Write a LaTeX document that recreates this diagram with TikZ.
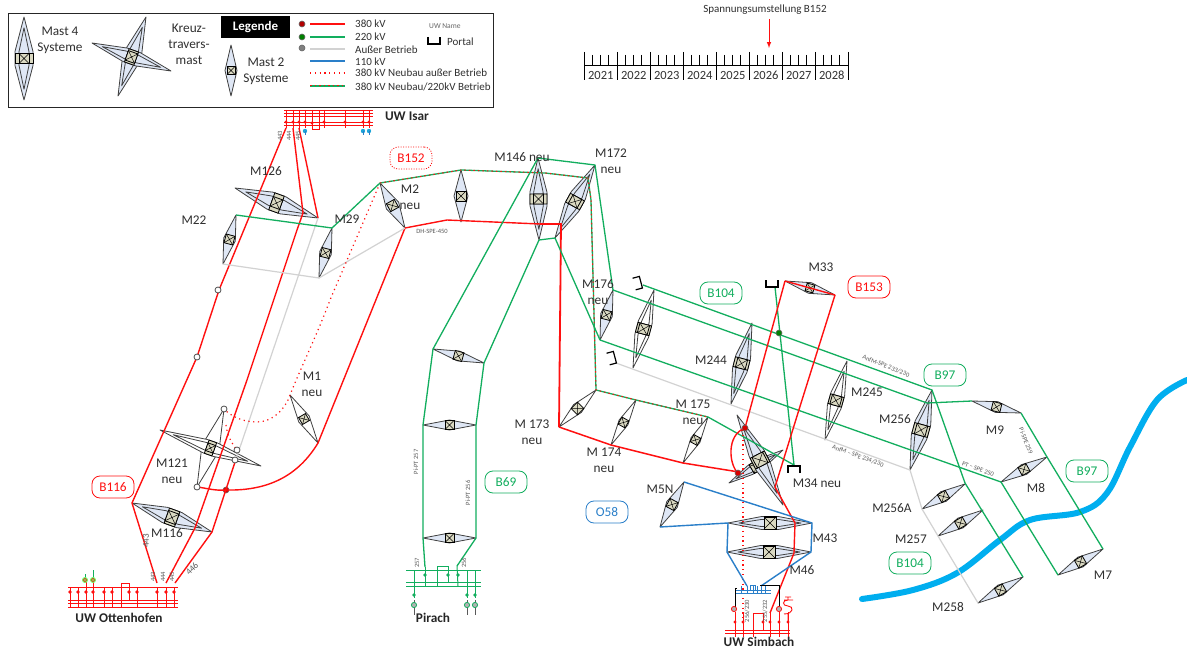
\documentclass[tikz,border=0pt]{standalone}
\usepackage{fontspec}
\setmainfont{Carlito}
\usetikzlibrary{calc}
\definecolor{cred}{HTML}{FF1010}
\definecolor{cgreen}{HTML}{12AE5E}
\definecolor{cgray}{HTML}{D2D2D2}
\definecolor{cblue}{HTML}{2A7FC9}
\definecolor{criver}{HTML}{00AEEF}
\definecolor{mastblue}{HTML}{DFE7F5}
\definecolor{beige}{HTML}{DAD9C2}
\definecolor{txt}{HTML}{303030}
\tikzset{
 mastline/.style={draw=black!75,line width=0.8pt,line join=round},
 boxline/.style={draw=black,line width=0.8pt,fill=beige},
 lred/.style={draw=cred,line width=1.4pt,line join=round},
 lgreen/.style={draw=cgreen,line width=1.3pt,line join=round},
 lgray/.style={draw=cgray,line width=1.2pt,line join=round},
 lblue/.style={draw=cblue,line width=1.4pt,line join=round},
 ldot/.style={draw=cred,line width=1.2pt,dash pattern=on 1.2pt off 3.6pt},
 lnew/.style={draw=cgreen,line width=1.3pt,line join=round,postaction={draw=cred,line width=1pt,dash pattern=on 1.5pt off 3pt}},
 lab/.style={text=txt,font=\fontsize{13.3}{16}\selectfont,align=center,inner sep=0pt},
 small/.style={text=black!65,font=\fontsize{6.5}{7}\selectfont,inner sep=0pt},
 legtxt/.style={text=txt,font=\fontsize{11}{12}\selectfont,anchor=west,inner sep=0pt},
 uw/.style={text=black!85,font=\bfseries\fontsize{13.3}{15}\selectfont,inner sep=0pt},
 pill/.style={draw=#1,text=#1,line width=0.8pt,rounded corners=8pt,minimum width=42pt,minimum height=22pt,font=\fontsize{13.3}{15}\selectfont,inner sep=0pt},
 pilldot/.style={draw=cred,text=cred,line width=0.8pt,dash pattern=on 1pt off 1.5pt,rounded corners=8pt,minimum width=42pt,minimum height=22pt,font=\fontsize{13.3}{15}\selectfont,inner sep=0pt},
 portalline/.style={draw=black,line width=1.2pt},
 stn/.style={draw=cred,line width=1pt},
 stg/.style={draw=cgreen,line width=1pt},
 stb/.style={draw=cblue,line width=1pt},
 stk/.style={draw=black,line width=1pt}
}
\newcommand{\mastsetup}[4]{%
 \pgfmathsetmacro\mdx{#3-#1}\pgfmathsetmacro\mdy{#4-#2}%
 \pgfmathsetmacro\mang{atan2(-\mdy,\mdx)}\pgfmathsetmacro\mlen{veclen(\mdx,\mdy)}%
 \pgfmathsetmacro\mmid{\mlen/2}}
% name, ax, ay, bx, by, half width, half box, fill
\newcommand{\mastII}[8]{%
 \coordinate (#1a) at (#2,#3);\coordinate (#1b) at (#4,#5);
 \mastsetup{#2}{#3}{#4}{#5}
 \begin{scope}[shift={(#2,#3)},rotate=\mang]
  \draw[mastline,fill=#8] (0,0)--(\mmid,#6)--(\mlen,0)--(\mmid,-#6)--cycle;
  \draw[boxline] (\mmid-#7,-#7) rectangle (\mmid+#7,#7);
  \draw[line width=0.5pt] (\mmid-#7,-#7)--(\mmid+#7,#7) (\mmid-#7,#7)--(\mmid+#7,-#7);
 \end{scope}}
\newcommand{\mastIV}[8]{%
 \coordinate (#1a) at (#2,#3);\coordinate (#1b) at (#4,#5);
 \mastsetup{#2}{#3}{#4}{#5}
 \pgfmathsetmacro\mq{#7*1.4}\pgfmathsetmacro\mi{#6*.55}\pgfmathsetmacro\mt{\mlen*.13}\pgfmathsetmacro\mu{\mlen*.87}
 \begin{scope}[shift={(#2,#3)},rotate=\mang]
  \draw[mastline,fill=#8] (0,0)--(\mmid-\mq,#6)--(\mmid+\mq,#6)--(\mlen,0)--(\mmid+\mq,-#6)--(\mmid-\mq,-#6)--cycle;
  \draw[mastline] (\mt,0)--(\mmid-\mq,\mi)--(\mmid+\mq,\mi)--(\mu,0)--(\mmid+\mq,-\mi)--(\mmid-\mq,-\mi)--cycle;
  \draw[boxline] (\mmid-#7,-#6) rectangle (\mmid+#7,#6);
  \draw[boxline] (\mmid-#7,-#7) rectangle (\mmid+#7,#7);
  \draw[line width=0.5pt] (\mmid-#7,-#7)--(\mmid+#7,#7) (\mmid-#7,#7)--(\mmid+#7,-#7);
 \end{scope}}
\newcommand{\portal}[4]{%
 \coordinate (#1) at (#2,#3);
 \begin{scope}[shift={(#2,#3)},rotate=#4]
  \draw[portalline] (-6,-4)--(-6,3)--(6,3)--(6,-4);
 \end{scope}}
\newcommand{\opendot}[3]{\node[circle,draw=black!70,fill=white,line width=0.8pt,minimum size=6pt,inner sep=0pt] (#1) at (#2,#3) {};}
\newcommand{\sdot}[4]{\node[circle,draw=black!60,fill=#4,line width=0.6pt,minimum size=6pt,inner sep=0pt] (#1) at (#2,#3) {};}
\begin{document}
\begin{tikzpicture}[x=1pt,y=-1pt]
\useasboundingbox (0,0) rectangle (1187,650);
\fill[white] (0,0) rectangle (1187,650);
% river
\draw[criver,line width=6pt,line cap=round] plot[smooth,tension=.6] coordinates {(862,599) (913,590) (957,573) (1000,540) (1030,520) (1080,512) (1107,493) (1130,447) (1157,400) (1187,380)};
% legend
\node[draw=black!85,line width=1.2pt,minimum width=485pt,minimum height=94pt,anchor=north west,inner sep=0pt] (legendbox) at (8,13) {};
\mastIV{Lf}{24}{17}{24}{100}{9}{5}{mastblue}
\mastIV{Lka}{146}{17}{118}{96}{8}{5}{mastblue}
\mastIV{Lkb}{92}{43}{171}{71}{7}{5}{mastblue}
\mastII{Lz}{231}{45}{231}{96}{6}{4}{mastblue}
\node[lab] (tf) at (60,40) {Mast 4\\Systeme};
\node[lab] (tk) at (189,44) {Kreuz-\\travers-\\mast};
\node[lab] (tz) at (266,71) {Mast 2\\Systeme};
\node[fill=black,text=white,font=\bfseries\fontsize{13}{15}\selectfont,minimum width=69pt,minimum height=22pt,inner sep=0pt] (leg) at (255.5,27) {Legende};
\sdot{ld1}{302}{24}{red!70!black}
\sdot{ld2}{302}{37}{green!50!black}
\sdot{ld3}{302}{48}{black!50}
\foreach \n/\y/\s in {a/24/lred,b/37/lgreen,c/49/lgray,d/61/lblue,e/73/ldot,f/86/lnew}{
 \coordinate (ls\n) at (310,\y);\coordinate (le\n) at (345,\y);
 \draw[\s] (ls\n)--(le\n);}
\node[legtxt] (t1) at (355,24) {380 kV};
\node[legtxt] (t2) at (355,37) {220 kV};
\node[legtxt] (t3) at (355,50) {Außer Betrieb};
\node[legtxt] (t4) at (355,62) {110 kV};
\node[legtxt] (t5) at (355,73) {380 kV Neubau außer Betrieb};
\node[legtxt] (t6) at (355,87) {380 kV Neubau/220kV Betrieb};
\node[text=black!60,font=\fontsize{7.5}{9}\selectfont,anchor=west,inner sep=0pt] (tu) at (429,26) {UW Name};
\portal{lp}{434}{41}{0}
\node[legtxt] (tp) at (447,42) {Portal};
% timeline
\node[text=txt,font=\fontsize{11}{13}\selectfont,inner sep=0pt] (spa) at (765,10) {Spannungsumstellung B152};
\coordinate (arra) at (769,19);\coordinate (arrb) at (769,48);
\draw[draw=cred,line width=1pt,-latex] (arra)--(arrb);
\draw[line width=0.9pt] (584,65)--(848,65);
\foreach \i in {0,...,8}{\pgfmathsetmacro\xx{584+33*\i}\draw[line width=0.9pt] (\xx,52)--(\xx,80);}
\foreach \i in {0,...,7}{
 \pgfmathsetmacro\xa{584+33*\i+8.25}\pgfmathsetmacro\xb{584+33*\i+16.5}\pgfmathsetmacro\xc{584+33*\i+24.75}\pgfmathsetmacro\xd{584+33*\i+16.8}\pgfmathtruncatemacro\yy{2021+\i}
 \draw[line width=0.7pt] (\xa,55)--(\xa,65) (\xb,55)--(\xb,65) (\xc,55)--(\xc,65);
 \node[text=txt,font=\fontsize{12.5}{14}\selectfont,inner sep=0pt] (y\yy) at (\xd,75) {\yy};}
% masts
\mastIV{M126}{235}{188}{318}{218}{9}{5}{mastblue}
\mastII{M22}{236}{215}{223}{264}{6}{4.5}{mastblue}
\mastII{M29}{332}{228}{319}{278}{6}{4.5}{mastblue}
\mastII{M2}{380}{183}{405}{228}{7}{4.5}{mastblue}
\mastII{Mx}{461}{170}{461}{222}{7}{5}{mastblue}
\mastIV{M146}{538}{158}{539}{240}{8.5}{5}{mastblue}
\mastIV{M172}{595}{165}{555}{238}{8}{5}{mastblue}
\mastII{M176}{613}{290}{600}{340}{6}{4.5}{mastblue}
\mastIV{Mw}{654}{290}{633}{368}{7}{5}{white}
\mastIV{M244}{752}{323}{731}{404}{7.5}{5}{mastblue}
\mastIV{M245}{847}{361}{825}{440}{7}{5}{white}
\mastIV{M256}{932}{390}{910}{470}{8}{5.5}{mastblue}
\mastII{M33}{785}{281}{835}{295}{5.5}{4}{mastblue}
\mastII{M173}{596}{390}{559}{427}{5.5}{4.5}{white}
\mastII{M174}{636}{400}{611}{445}{5}{4}{white}
\mastII{M175}{708}{417}{683}{463}{5}{4}{white}
\mastII{M1}{290}{395}{318}{443}{6}{4}{white}
\mastII{M9}{972}{401}{1021}{413}{5.5}{4.5}{mastblue}
\mastII{M8}{1047}{457}{1001}{482}{5.5}{4.5}{mastblue}
\mastII{M7}{1103}{549}{1058}{575}{5.5}{4.5}{mastblue}
\mastII{M258}{1023}{577}{978}{603}{5.5}{4.5}{mastblue}
\mastII{M256A}{965}{484}{922}{509}{5.5}{4.5}{mastblue}
\mastII{M257}{983}{510}{938}{536}{5.5}{4.5}{mastblue}
\mastII{P1}{433}{349}{484}{363}{5}{4.5}{mastblue}
\mastII{P2}{423}{425}{476}{425}{5}{4.5}{mastblue}
\mastII{P3}{423}{538}{476}{538}{5}{4.5}{mastblue}
\mastII{M5N}{684}{482}{660}{527}{6}{4.5}{mastblue}
\mastIV{M43}{728}{523}{812}{523}{6.5}{6}{mastblue}
\mastIV{M46}{727}{552}{811}{552}{6.5}{6}{mastblue}
\mastIV{M116}{132}{503}{212}{532}{8}{5.5}{mastblue}
\mastII{K1b}{224}{409}{197}{487}{9}{4}{white}
\mastIV{K1a}{160}{430}{261}{466}{7}{4}{white}
\mastIV{K2b}{729}{483}{783}{450}{5}{5}{mastblue}
\mastIV{K2a}{737}{415}{783}{505}{8}{6}{mastblue}
% bend points
\coordinate (ir1) at (286,128);\coordinate (ir2) at (293,128);\coordinate (ir3) at (299,128);
\coordinate (a1) at (219,290);\coordinate (a2) at (197,357);
\coordinate (a3) at (303,213);\coordinate (a4) at (297,230);\coordinate (a5) at (247,380);
\coordinate (ot1) at (157,583);\coordinate (ot2) at (166,583);\coordinate (ot3) at (175,583);
\coordinate (kc) at (235,462);
\sdot{od}{226}{490}{red!85!black}
% red lines
\draw[lred] (ir1)--(a1)--(a2)--(M116a)--(ot1);
\draw[lred] (ir2)--(a3)--(a4)--(a5)--(195,528)--(ot2);
\draw[lred] (ir3)--(M126b);
\draw[lred] (kc)--(M116b)--(ot3);
\draw[lred] (M2b)--(M1b) .. controls (298,476) and (268,491) .. (od.center) .. controls (215,491) and (206,488) .. (K1bb);
\draw[lred] (M2b)--(447,220)--(540,224);
\draw[draw=cred,line width=1.8pt] (540,224)--(561,224)--(M173b);
\draw[draw=cred,line width=1.5pt] (M173b)--(M174b)--(M175b)--(739,472);
\draw[lgray] (M126b)--(kc);
\draw[lgray] (M22b)--(M29b)--(M2b);
\draw[ldot] (M2a)--(330,300) .. controls (317,335) and (302,365) .. (M1a) .. controls (285,410) and (272,422) .. (257,422) .. controls (245,422) and (233,418) .. (K1ba);
\draw[ldot] (226,425) .. controls (227,435) and (232,444) .. (237,450);
\draw[lgreen] (M22a)--(M29a)--(M2a);
\draw[lnew] (M2a)--(Mxa)--(545,173)--(588,178);
\draw[lnew] (588,178)--(591,200)--(596,390)--(M174a)--(M175a);
\draw[lgreen] (M146a)--(M172a)--(M176a);
\draw[lgreen] (M146a)--(460,300)--(P1a)--(P2a)--(P3a)--(425,567);
\draw[lgreen] (M146b)--(P1b)--(P2b)--(P3b)--(457,566);
\draw[lgreen] (M146b)--(M172b)--(M176b);
\draw[lgreen] (643,285)--(M256a)--(965,483)--(M258a);
\draw[lgreen] (M176a)--(927,403)--(M9a);
\draw[lgreen] (M176b)--(M8b)--(M7b);
\draw[lgreen] (M9b)--(M8a)--(M7a);
\draw[lgray] (616,363)--(M256b)--(M256Ab)--(M257b)--(M258b);
\draw[lgreen] (775,287)--(794,465);
\draw[lgreen] (M175a)--(794,465);
\sdot{gd}{779}{333}{green!50!black}
\draw[ldot] (743,430)--(743,620);
\draw[lred] (M33a)--(745,428);
\draw[lred] (M33b)--(M33a);
\draw[lred] (M33b)--(802,400)--(775,487)--(795,523)--(794,553)--(770,613);
\draw[lred] (738,473) .. controls (729,465) and (726,435) .. (745,428);
\sdot{rd1}{745}{428}{red!85!black}
\sdot{rd2}{738}{473}{red!85!black}
\draw[lblue] (M5Na)--(M43b)--(M46b)--(761,586);
\draw[lblue] (M5Nb)--(M43a)--(M46a)--(747,586);
% open dots
\opendot{odA}{218}{290}
\opendot{odB}{197}{357}
\opendot{odC}{224}{409}
\opendot{odD}{197}{487}
\opendot{odE}{237}{450}
\opendot{odF}{235}{460}
% portals
\portal{p1}{638}{283}{105}
\portal{p2}{612}{358}{105}
\portal{p3}{772}{284}{0}
\portal{p4}{794}{469}{180}
% UW Isar
\foreach \y in {110,113,116,122,125}{\draw[draw=cred,line width=.7pt] (284,\y)--(373,\y);}
\foreach \x in {286,293,299,305,324,345,363,369}{\draw[stn] (\x,110)--(\x,128);\fill[cred] (\x,122) circle (1.7);}
\draw[stn] (312,110)--(312,130)--(319,130)--(319,111);
\fill[cred] (312,123) circle (1.7);
\foreach \x in {305,363,369}{\fill[cblue!70!cyan] (\x,131) circle (2.2);\draw[cblue] (\x,131)--(\x,135);}
\foreach \x/\n in {280/443,289/444,298/445}{\node[small,rotate=90] (i\n) at (\x,136) {\n};}
\node[uw] (uwi) at (407,116) {UW Isar};
% UW Ottenhofen
\foreach \y in {587,600,603,607}{\draw[stn] (68,\y)--(178,\y);}
\foreach \x in {70,78,86,93,104,112,137,157,166,174}{\draw[stn] (\x,587)--(\x,607);\fill[cred] (\x,592) circle (1.8);}
\draw[stn] (121,607)--(121,583)--(129,583)--(129,600);\fill[cred] (129,592) circle (1.8);
\draw[stn] (86,587)--(86,582) (93,587)--(93,582);
\foreach \x/\yy in {85/574,93/570}{\draw[stg] (\x,580)--(\x,\yy);\fill[green!60!white] (\x,580) circle (3);\draw[cred,line width=.6pt] (\x,580) circle (1.8);}
\node[uw] (uwo) at (119,618) {UW Ottenhofen};
\foreach \x/\n in {153/443,163/444,172/445}{\node[small,rotate=90] (o\n) at (\x,577) {\n};}
\node[text=black!65,font=\fontsize{9}{10}\selectfont,rotate=90,inner sep=0pt] (n443) at (146,541) {443};
\node[text=black!65,font=\fontsize{9}{10}\selectfont,rotate=45,inner sep=0pt] (n446) at (192,569) {446};
% Pirach
\foreach \y in {570,582,586}{\draw[stg] (406,\y)--(481,\y);}
\foreach \x in {414,467,475}{\draw[stg] (\x,570)--(\x,598);\fill[cgreen] (\x,595) circle (1.8);\draw[line width=.9pt,black!65] (\x,600)--(\x,615);\draw[cgreen,line width=.8pt,fill=black!30] (\x,605) circle (2.6);}
\draw[stg] (425,567)--(425,586);\fill[cgreen] (425,575) circle (1.8);
\draw[stg] (457,566)--(458,586);\fill[cgreen] (458,575) circle (1.8);
\draw[stg] (437,586)--(437,566)--(448,566)--(448,582);\fill[cgreen] (448,575) circle (1.8);
\node[small,rotate=90] (p257) at (417,563) {257};
\node[small,rotate=90] (p256) at (464,563) {256};
\node[uw] (uwp) at (433,618) {Pirach};
\node[small,rotate=90] (pp257) at (416,462) {Pi-PT 257};
\node[small,rotate=90] (pp256) at (468,493) {Pi-PT 256};
% Simbach
\foreach \y in {590,593}{\draw[stb] (735,\y)--(771,\y);}
\foreach \x in {741,747,753,757,761,765}{\draw[draw=cblue,line width=.8pt] (\x,586)--(\x,593);}
\draw[stb] (750,590)--(750,585)--(755,585)--(755,590);
\draw[stk] (735,610)--(735,588)--(737,588);
\draw[stk] (760,585)--(779,585)--(779,610);
\foreach \x in {734,779}{\draw[cred,line width=.8pt,fill=black!30] (\x,609) circle (2.6);}
\foreach \y in {630,633}{\draw[stn] (725,\y)--(790,\y);}
\foreach \x in {735,743,770,779,788}{\draw[stn] (\x,612)--(\x,637);\fill[cred] (\x,622) circle (1.7);}
\draw[stn] (753,637)--(753,613)--(763,613)--(763,630);\fill[cred] (763,622) circle (1.7);
\draw[draw=cred,line width=.9pt] (788,622)--(788,614) (784,614) .. controls (794,614) and (794,606) .. (788,606) .. controls (782,606) and (782,600) .. (788,600) (784,600)--(793,600) (788,600)--(788,597) (785,597)--(791,597);
\node[small,rotate=90] (s256) at (747,611) {256/230};
\node[small,rotate=90] (s255) at (765,611) {255/232};
\node[uw] (uws) at (759,642) {UW Simbach};
% small line labels
\node[small] (dh) at (432,231) {DH-SPE-450};
\node[small,rotate=-22] (an1) at (886,366) {AnfM-SPE 233/230};
\node[small,rotate=-20] (an2) at (858,456) {AnfM – SPE 234/230};
\node[small,rotate=-20] (pt) at (978,469) {PT – SPE 250};
\node[small,rotate=-68] (ps) at (1026,441) {Pi-SPE 259};
% labels
\node[lab] (lM126) at (266,171) {M126};
\node[lab] (lM22) at (194,220) {M22};
\node[lab] (lM29) at (347,219) {M29};
\node[lab] (lM2) at (410,197) {M2\\neu};
\node[lab] (lM146) at (522,157) {M146 neu};
\node[lab] (lM172) at (611,161) {M172\\neu};
\node[lab] (lM176) at (598,292) {M176\\neu};
\node[lab] (lM1) at (312,384) {M1\\neu};
\node[lab] (lM121) at (172,471) {M121\\neu};
\node[lab] (lM116) at (167,533) {M116};
\node[lab] (lM173) at (532,432) {M 173\\neu};
\node[lab] (lM174) at (604,460) {M 174\\neu};
\node[lab] (lM175) at (693,412) {M 175\\neu};
\node[lab] (lM33) at (821,267) {M33};
\node[lab] (lM244) at (711,360) {M244};
\node[lab] (lM245) at (867,392) {M245};
\node[lab] (lM256) at (895,419) {M256};
\node[lab] (lM9) at (995,430) {M9};
\node[lab] (lM8) at (1036,488) {M8};
\node[lab] (lM7) at (1103,575) {M7};
\node[lab] (lM256A) at (892,508) {M256A};
\node[lab] (lM257) at (911,539) {M257};
\node[lab] (lM258) at (948,607) {M258};
\node[lab] (lM34) at (817,483) {M34 neu};
\node[lab] (lM43) at (825,538) {M43};
\node[lab] (lM46) at (802,570) {M46};
\node[lab] (lM5N) at (660,489) {M5N};
% pills
\node[pilldot] (B152) at (411,158) {B152};
\node[pill=cred] (B116) at (113,487) {B116};
\node[pill=cgreen] (B69) at (506,482) {B69};
\node[pill=cgreen] (B104a) at (721,293) {B104};
\node[pill=cred] (B153) at (869,287) {B153};
\node[pill=cgreen] (B97a) at (945,375) {B97};
\node[pill=cgreen] (B97b) at (1087,471) {B97};
\node[pill=cblue] (O58) at (607,512) {O58};
\node[pill=cgreen] (B104b) at (910,563) {B104};
\end{tikzpicture}
\end{document}
